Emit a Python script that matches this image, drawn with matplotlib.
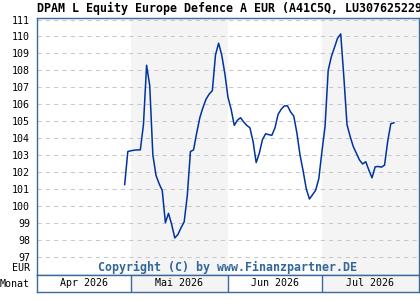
import numpy as np
import pandas as pd
import matplotlib
matplotlib.use("Agg")
import matplotlib.pyplot as plt
import matplotlib.dates as mdates

title = "DPAM L Equity Europe Defence A EUR (A41C5Q, LU3076252298)"
start_date = "2026-04-29"
values = [
    101.25, 103.2, 103.25, 103.28, 103.3, 103.3, 104.8, 108.3, 107.1, 103.0,
    101.8, 101.3, 100.9, 99.0, 99.55, 98.9, 98.1, 98.3, 98.7, 99.05,
    100.6, 103.2, 103.3, 104.3, 105.2, 105.8, 106.3, 106.6, 106.8, 108.9,
    109.6, 108.9, 107.8, 106.4, 105.7, 104.75, 105.05, 105.2, 104.95, 104.75,
    104.6, 103.8, 102.55, 103.1, 103.9, 104.25, 104.2, 104.16, 104.6, 105.4,
    105.7, 105.9, 105.9, 105.54, 105.3, 104.3, 103.0, 102.05, 101.0, 100.4,
    100.65, 100.92, 101.6, 103.2, 104.7, 108.0, 108.8, 109.35, 109.9, 110.15,
    107.6, 104.8, 104.1, 103.5, 103.1, 102.7, 102.47, 102.6, 102.1, 101.65,
    102.3, 102.32, 102.28, 102.4, 103.8, 104.85, 104.9,
]
month_starts = ["2026-04-01", "2026-05-01", "2026-06-01", "2026-07-01", "2026-08-01"]
month_labels = ["Apr 2026", "Mai 2026", "Jun 2026", "Jul 2026"]
shaded = [False, True, False, True]
y_ticks = list(range(97, 112))

dates = pd.date_range(start_date, periods=len(values), freq="D")
bounds = pd.to_datetime(month_starts)

border = "#3a6a9e"
shade = "#f4f4f4"
mono = "DejaVu Sans Mono"
W, H = 420, 300

fig = plt.figure(figsize=(4.2, 3.0), dpi=100)
fig.patch.set_facecolor("white")

ax = fig.add_axes([37 / W, (H - 275) / H, 382 / W, 257 / H])
band = fig.add_axes([37 / W, (H - 292) / H, 382 / W, 17 / H])

for a in (ax, band):
    a.set_xlim(bounds[0], bounds[-1])
    for i in range(4):
        if shaded[i]:
            a.axvspan(bounds[i], bounds[i + 1], color=shade, lw=0, zorder=0)
    for s in a.spines.values():
        s.set_color(border)
        s.set_linewidth(1.0)

ax.set_ylim(95.91, 111.09)
for yv in y_ticks:
    ax.axhline(yv, color="#c8c8c8", lw=0.75, dashes=(4, 4), zorder=1)
ax.plot(dates, values, color="#0033a0", lw=1.1, zorder=3)

ax.set_yticks(y_ticks)
ax.set_yticklabels([str(v) for v in y_ticks], fontfamily=mono, fontsize=7.2)
ax.tick_params(axis="y", length=0, pad=5)
ax.set_xticks([])

fig.text(228 / W, 1 - 267.7 / H, "Copyright (C) by www.Finanzpartner.DE",
         ha="center", va="center", fontfamily=mono, fontweight="bold",
         fontsize=8.4, color="#336699")
fig.text(30 / W, 1 - 268 / H, "EUR", ha="right", va="center",
         fontfamily=mono, fontsize=7.2)
fig.text(30 / W, 1 - 284 / H, "Monat", ha="right", va="center",
         fontfamily=mono, fontsize=7.2)
# title runs past the right edge, as in the original
fig.text(37 / W, 1 - 8.5 / H, title, ha="left", va="center",
         fontfamily=mono, fontweight="bold", fontsize=8.35)

band.set_ylim(0, 1)
band.set_xticks([])
band.set_yticks([])
for b in bounds[1:-1]:
    band.axvline(b, color=border, lw=1.0)
for i, lab in enumerate(month_labels):
    mid = bounds[i] + (bounds[i + 1] - bounds[i]) / 2
    band.text(mid, 0.5, lab, ha="center", va="center",
              fontfamily=mono, fontsize=7.2)

fig.savefig("out.png", dpi=100)
